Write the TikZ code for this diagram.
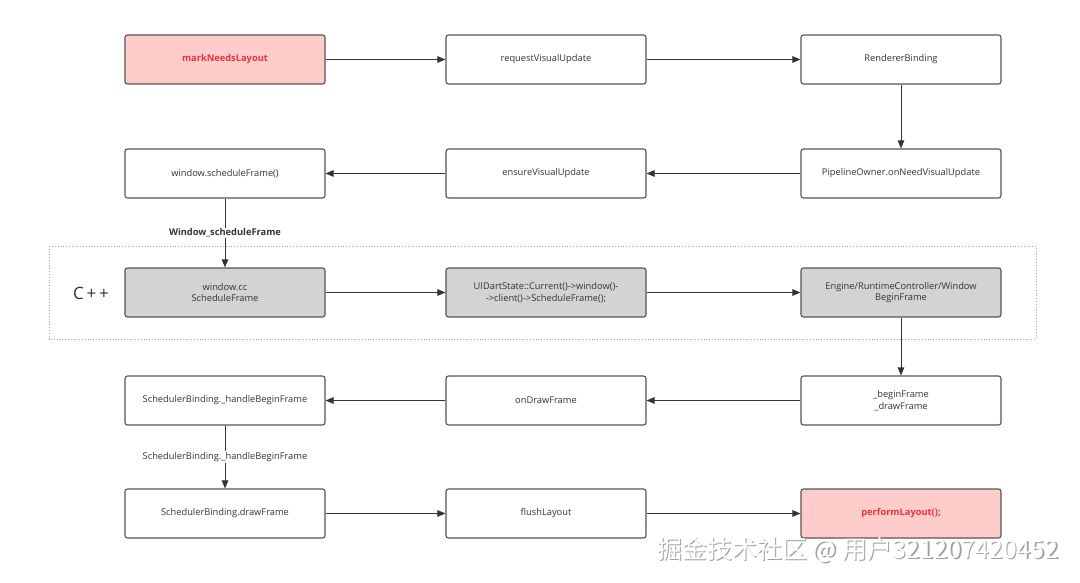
\documentclass[tikz,border=0pt]{standalone}
\usepackage{fontspec}
\setmainfont{Open Sans}
\newfontfamily\cjk{Noto Sans CJK SC}
\usetikzlibrary{arrows.meta,positioning}
\definecolor{boxline}{HTML}{555555}
\definecolor{pinkfill}{HTML}{FFCCCC}
\definecolor{redtext}{HTML}{E8333F}
\definecolor{grayfill}{HTML}{D3D3D3}
\definecolor{txt}{HTML}{333333}
\begin{document}
\begin{tikzpicture}[x=1pt,y=-1pt,
  box/.style={draw=boxline,line width=1.1pt,rounded corners=2.5pt,minimum width=200pt,minimum height=49pt,align=center,font=\fontsize{9.3}{11.5}\selectfont,text=txt,fill=white,inner sep=2pt},
  hot/.style={box,fill=pinkfill,text=redtext,font=\fontsize{9.3}{11.5}\selectfont\bfseries},
  cpp/.style={box,fill=grayfill},
  conn/.style={draw=txt,line width=1pt,-{Triangle[length=8pt,width=6.5pt]}},
  lbl/.style={font=\fontsize{9.3}{11}\selectfont,text=txt,fill=white,inner sep=1pt}]
\useasboundingbox (0,0) rectangle (1080,583);
\fill[white] (0,0) rectangle (1080,583);
\draw[gray!70,dotted,line width=0.8pt] (49,246) rectangle (1036,339);
\node[font=\fontsize{17}{19}\selectfont,text=txt] (cpplbl) at (91,293) {C\,+\,+};
\node[hot] (a1) at (225,59.5) {markNeedsLayout};
\node[box] (a2) at (546,59.5) {requestVisualUpdate};
\node[box] (a3) at (901,59.5) {RendererBinding};
\node[box] (b1) at (225,173.5) {window.scheduleFrame()};
\node[box] (b2) at (546,173.5) {ensureVisualUpdate};
\node[box] (b3) at (901,173.5) {PipelineOwner.onNeedVisualUpdate};
\node[cpp] (c1) at (225,292.5) {window.cc\\ScheduleFrame};
\node[cpp] (c2) at (546,292.5) {UIDartState::Current()->window()-\\->client()->ScheduleFrame();};
\node[cpp] (c3) at (901,292.5) {Engine/RuntimeController/Window\\BeginFrame};
\node[box] (d1) at (225,400.5) {SchedulerBinding.\_handleBeginFrame};
\node[box] (d2) at (546,400.5) {onDrawFrame};
\node[box] (d3) at (901,400.5) {\_beginFrame\\\_drawFrame};
\node[box] (e1) at (225,513.5) {SchedulerBinding.drawFrame};
\node[box] (e2) at (546,513.5) {flushLayout};
\node[hot] (e3) at (901,513.5) {performLayout();};
\draw[conn] (a1) -- (a2);
\draw[conn] (a2) -- (a3);
\draw[conn] (a3) -- (b3);
\draw[conn] (b3) -- (b2);
\draw[conn] (b2) -- (b1);
\draw[conn] (b1) -- node[lbl,font=\fontsize{9.3}{11}\selectfont\bfseries,pos=0.5] {Window\_scheduleFrame} (c1);
\draw[conn] (c1) -- (c2);
\draw[conn] (c2) -- (c3);
\draw[conn] (c3) -- (d3);
\draw[conn] (d3) -- (d2);
\draw[conn] (d2) -- (d1);
\draw[conn] (d1) -- node[lbl,pos=0.5] {SchedulerBinding.\_handleBeginFrame} (e1);
\draw[conn] (e1) -- (e2);
\draw[conn] (e2) -- (e3);
\node[font=\cjk\fontsize{25}{27}\selectfont,text=gray!75,anchor=west,inner sep=0pt] (wm0) at (658.5,551.5) {掘金技术社区 @ 用户321207420452};
\node[font=\cjk\fontsize{25}{27}\selectfont,text=white,anchor=west,inner sep=0pt] (wm) at (657,550) {掘金技术社区 @ 用户321207420452};
\end{tikzpicture}
\end{document}
